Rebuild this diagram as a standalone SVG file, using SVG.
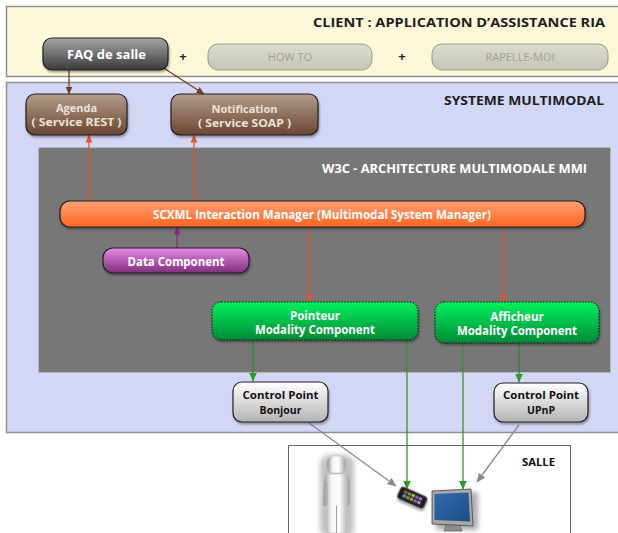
<svg xmlns="http://www.w3.org/2000/svg" width="618" height="533" viewBox="0 0 618 533">
  <defs>
    <linearGradient id="gDark" x1="0" y1="0" x2="0" y2="1">
      <stop offset="0" stop-color="#a6a6a6"/>
      <stop offset="1" stop-color="#3a3a3a"/>
    </linearGradient>
    <linearGradient id="gBeige" x1="0" y1="0" x2="0" y2="1">
      <stop offset="0" stop-color="#dcdccf"/>
      <stop offset="1" stop-color="#c6c6b6"/>
    </linearGradient>
    <linearGradient id="gBrown" x1="0" y1="0" x2="0" y2="1">
      <stop offset="0" stop-color="#b29c8a"/>
      <stop offset="1" stop-color="#6a4630"/>
    </linearGradient>
    <linearGradient id="gOrange" x1="0" y1="0" x2="0" y2="1">
      <stop offset="0" stop-color="#ffa276"/>
      <stop offset="1" stop-color="#ff6420"/>
    </linearGradient>
    <linearGradient id="gPurple" x1="0" y1="0" x2="0" y2="1">
      <stop offset="0" stop-color="#e88ae6"/>
      <stop offset="1" stop-color="#7e2f7c"/>
    </linearGradient>
    <linearGradient id="gGreen" x1="0" y1="0" x2="0" y2="1">
      <stop offset="0" stop-color="#06f25c"/>
      <stop offset="1" stop-color="#008a35"/>
    </linearGradient>
    <linearGradient id="gLight" x1="0" y1="0" x2="0" y2="1">
      <stop offset="0" stop-color="#ffffff"/>
      <stop offset="1" stop-color="#b4b4b4"/>
    </linearGradient>
    <linearGradient id="gBody" x1="0" y1="0" x2="1" y2="0">
      <stop offset="0" stop-color="#8c8c8c"/>
      <stop offset="0.3" stop-color="#f4f4f4"/>
      <stop offset="0.6" stop-color="#ffffff"/>
      <stop offset="1" stop-color="#9c9c9c"/>
    </linearGradient>
    <linearGradient id="gScreen" x1="0" y1="0" x2="1" y2="1">
      <stop offset="0" stop-color="#2f6bb0"/>
      <stop offset="1" stop-color="#1f4c86"/>
    </linearGradient>
    <filter id="shadow" x="-10%" y="-20%" width="120%" height="150%">
      <feDropShadow dx="1" dy="2" stdDeviation="1.2" flood-color="#000" flood-opacity="0.35"/>
    </filter>
    <filter id="soft" x="-30%" y="-30%" width="160%" height="160%">
      <feGaussianBlur stdDeviation="0.5"/>
    </filter>
    <filter id="halo" x="-40%" y="-40%" width="180%" height="180%">
      <feGaussianBlur stdDeviation="2.5"/>
    </filter>
    <marker id="aBrown" viewBox="0 0 8 8" refX="7.5" refY="4" markerWidth="8" markerHeight="8" markerUnits="userSpaceOnUse" orient="auto">
      <path d="M0,0.5 L8,4 L0,7.5 Z" fill="#6e4220"/>
    </marker>
    <marker id="aRed" viewBox="0 0 8 8" refX="7.5" refY="4" markerWidth="8" markerHeight="8" markerUnits="userSpaceOnUse" orient="auto">
      <path d="M0,0.5 L8,4 L0,7.5 Z" fill="#e8522c"/>
    </marker>
    <marker id="aPurple" viewBox="0 0 8 8" refX="7.5" refY="4" markerWidth="8" markerHeight="8" markerUnits="userSpaceOnUse" orient="auto">
      <path d="M0,0.5 L8,4 L0,7.5 Z" fill="#8a2a7e"/>
    </marker>
    <marker id="aGreen" viewBox="0 0 8 8" refX="7.5" refY="4" markerWidth="9" markerHeight="9" markerUnits="userSpaceOnUse" orient="auto">
      <path d="M0,0.5 L8,4 L0,7.5 Z" fill="#2a9a2a"/>
    </marker>
    <marker id="aGray" viewBox="0 0 8 8" refX="7.5" refY="4" markerWidth="9" markerHeight="9" markerUnits="userSpaceOnUse" orient="auto">
      <path d="M0,0.5 L8,4 L0,7.5 Z" fill="#8a8a8a"/>
    </marker>
  </defs>
  <style>
    text { font-family: "Open Sans", "Liberation Sans", sans-serif; font-weight: 700; }
    .title { font-size: 12.5px; fill: #1e1e1e; }
    .w3c { font-size: 12px; fill: #fff; }
    .lbl { font-size: 11.5px; fill: #fff; text-anchor: middle; }
    .dim { font-size: 11px; fill: #a09f95; text-anchor: middle; font-weight: 400; }
    .blk { font-size: 11px; fill: #111; text-anchor: middle; }
    .cp { font-size: 10.5px; fill: #111; text-anchor: middle; }
    .brownlbl { font-size: 11px; fill: #ece2da; text-anchor: middle; }
    .box { stroke: #1e1e1e; stroke-width: 1.2; filter: url(#shadow); }
    .mc { stroke: #111; stroke-width: 1; stroke-dasharray: 1.5 1.5; filter: url(#shadow); }
    .edge { fill: none; stroke-width: 1.3; }
  </style>

  <!-- frames -->
  <g id="client">
    <rect x="6.5" y="6.5" width="620" height="70" fill="#fdf8d9" stroke="#8f8f8f" stroke-width="1.5"/>
    <text class="title" x="313" y="27" textLength="292" lengthAdjust="spacingAndGlyphs">CLIENT : APPLICATION D’ASSISTANCE RIA</text>
  </g>
  <g id="systeme">
    <rect x="6.5" y="82.5" width="620" height="350" fill="#d4d6f6" stroke="#8f8f8f" stroke-width="1.5"/>
    <text class="title" x="444" y="105" textLength="160" lengthAdjust="spacingAndGlyphs">SYSTEME MULTIMODAL</text>
  </g>
  <g id="w3c">
    <rect x="38.5" y="147.5" width="572" height="225" fill="#777777" stroke="#c8c8c8" stroke-width="1" stroke-dasharray="2 2"/>
    <text class="w3c" x="322" y="173" textLength="265" lengthAdjust="spacingAndGlyphs">W3C  - ARCHITECTURE MULTIMODALE MMI</text>
  </g>
  <g id="salle">
    <rect x="288.5" y="445.5" width="282" height="100" fill="#ffffff" stroke="#666" stroke-width="1"/>
    <text class="blk" x="538.5" y="466" textLength="33" lengthAdjust="spacingAndGlyphs">SALLE</text>
  </g>

  <!-- connectors -->
  <g id="connectors">
    <line class="edge" x1="69" y1="70" x2="69" y2="94" stroke="#6e4220" stroke-width="1.5" marker-end="url(#aBrown)"/>
    <line class="edge" x1="162" y1="67" x2="204" y2="94" stroke="#6e4220" stroke-width="1.5" marker-end="url(#aBrown)"/>
    <line class="edge" x1="89" y1="201" x2="89" y2="135" stroke="#e8522c" marker-end="url(#aRed)"/>
    <line class="edge" x1="194" y1="201" x2="194" y2="135" stroke="#e8522c" marker-end="url(#aRed)"/>
    <line class="edge" x1="177" y1="248" x2="177" y2="227" stroke="#8a2a7e" stroke-width="1.6" marker-end="url(#aPurple)"/>
    <line class="edge" x1="309" y1="227" x2="309" y2="302" stroke="#e8522c" marker-end="url(#aRed)"/>
    <line class="edge" x1="503" y1="227" x2="503" y2="302" stroke="#e8522c" marker-end="url(#aRed)"/>
    <line class="edge" x1="253" y1="340" x2="253" y2="381" stroke="#2a8a2a" stroke-width="1.5" marker-end="url(#aGreen)"/>
    <line class="edge" x1="519" y1="343" x2="519" y2="382" stroke="#2a8a2a" stroke-width="1.5" marker-end="url(#aGreen)"/>
    <line class="edge" x1="407" y1="340" x2="407" y2="489" stroke="#2a9a2a" stroke-width="2" marker-end="url(#aGreen)"/>
    <line class="edge" x1="463" y1="343" x2="463" y2="489" stroke="#2a9a2a" stroke-width="2" marker-end="url(#aGreen)"/>
    <line class="edge" x1="309" y1="423" x2="396" y2="486" stroke="#8a8a8a" stroke-width="1.5" marker-end="url(#aGray)"/>
    <line class="edge" x1="519" y1="425" x2="477" y2="482" stroke="#8a8a8a" stroke-width="1.5" marker-end="url(#aGray)"/>
  </g>

  <!-- nodes -->
  <g id="faq">
    <rect class="box" x="43" y="38" width="125" height="32" rx="9" fill="url(#gDark)"/>
    <text class="lbl" x="106.5" y="58.5" style="font-size:13px" textLength="79" lengthAdjust="spacingAndGlyphs">FAQ de salle</text>
  </g>
  <text x="183" y="61" style="font-size:13px;fill:#222;text-anchor:middle">+</text>
  <g id="howto">
    <rect x="208" y="44" width="164" height="26" rx="10" fill="url(#gBeige)" stroke="#9a9a8e" stroke-width="1"/>
    <text class="dim" x="290" y="61">HOW TO</text>
  </g>
  <text x="402" y="61" style="font-size:13px;fill:#222;text-anchor:middle">+</text>
  <g id="rapelle">
    <rect x="432" y="44" width="176" height="26" rx="10" fill="url(#gBeige)" stroke="#9a9a8e" stroke-width="1"/>
    <text class="dim" x="520" y="61">RAPELLE-MOI</text>
  </g>

  <g id="agenda">
    <rect class="box" x="26" y="94" width="101" height="41" rx="9" fill="url(#gBrown)"/>
    <text class="brownlbl" x="76.5" y="112">Agenda</text>
    <text class="brownlbl" x="76.5" y="126" textLength="90" lengthAdjust="spacingAndGlyphs">( Service REST )</text>
  </g>
  <g id="notification">
    <rect class="box" x="171" y="94" width="147" height="41" rx="9" fill="url(#gBrown)"/>
    <text class="brownlbl" x="244.5" y="113">Notification</text>
    <text class="brownlbl" x="244.5" y="127" textLength="93" lengthAdjust="spacingAndGlyphs">( Service SOAP )</text>
  </g>

  <g id="scxml">
    <rect class="box" x="60" y="201" width="525" height="26" rx="10" fill="url(#gOrange)"/>
    <text class="lbl" x="322" y="218.5" textLength="338" lengthAdjust="spacingAndGlyphs">SCXML Interaction Manager (Multimodal System Manager)</text>
  </g>
  <g id="data">
    <rect class="box" x="103" y="248" width="146" height="25" rx="10" fill="url(#gPurple)"/>
    <text class="lbl" x="176" y="266" textLength="97" lengthAdjust="spacingAndGlyphs">Data Component</text>
  </g>

  <g id="pointeur">
    <rect class="mc" x="212" y="302" width="206" height="38" rx="9" fill="url(#gGreen)"/>
    <text class="lbl" x="315" y="320">Pointeur</text>
    <text class="lbl" x="315" y="333.5" textLength="120" lengthAdjust="spacingAndGlyphs">Modality Component</text>
  </g>
  <g id="afficheur">
    <rect class="mc" x="435" y="302" width="164" height="41" rx="9" fill="url(#gGreen)"/>
    <text class="lbl" x="517" y="321">Afficheur</text>
    <text class="lbl" x="517" y="335" textLength="120" lengthAdjust="spacingAndGlyphs">Modality Component</text>
  </g>

  <g id="cp-bonjour">
    <rect class="box" x="233" y="382" width="95" height="40" rx="9" fill="url(#gLight)"/>
    <text class="cp" x="280.5" y="399" textLength="76" lengthAdjust="spacingAndGlyphs">Control Point</text>
    <text class="cp" x="280.5" y="414">Bonjour</text>
  </g>
  <g id="cp-upnp">
    <rect class="box" x="494" y="383" width="94" height="39" rx="9" fill="url(#gLight)"/>
    <text class="cp" x="541" y="399" textLength="76" lengthAdjust="spacingAndGlyphs">Control Point</text>
    <text class="cp" x="541" y="414">UPnP</text>
  </g>

  <!-- room contents -->
  <g id="personne">
    <g filter="url(#halo)" opacity="0.45">
      <rect x="320" y="455" width="34" height="82" rx="9" fill="#777"/>
    </g>
    <g filter="url(#soft)">
      <rect x="327" y="456" width="19" height="17" rx="6" fill="url(#gBody)" stroke="#bdbdbd" stroke-width="0.6"/>
      <path d="M324,480 Q324,474 330,474 L343,474 Q350,474 350,481 L350,505 L346,508 L346,533 L327,533 L327,508 L323,505 Z" fill="url(#gBody)" stroke="#bdbdbd" stroke-width="0.6"/>
      <path d="M327,482 L327,505" stroke="#a0a0a0" stroke-width="0.8"/>
      <line x1="336.5" y1="506" x2="336.5" y2="533" stroke="#a0a0a0" stroke-width="1"/>
    </g>
  </g>
  <g id="telephone" transform="rotate(24 412 497)">
    <rect x="398" y="491" width="29" height="13" rx="3" fill="#1c1c1c" stroke="#777" stroke-width="0.8" filter="url(#shadow)"/>
    <rect x="402" y="493" width="21" height="9" fill="#333"/>
    <rect x="403" y="494" width="3" height="2.5" fill="#e04040"/>
    <rect x="407" y="494" width="3" height="2.5" fill="#40c040"/>
    <rect x="411" y="494" width="3" height="2.5" fill="#f0b020"/>
    <rect x="415" y="494" width="3" height="2.5" fill="#4080e0"/>
    <rect x="419" y="494" width="3" height="2.5" fill="#d060d0"/>
    <rect x="403" y="498" width="3" height="2.5" fill="#30b0e0"/>
    <rect x="407" y="498" width="3" height="2.5" fill="#e08030"/>
    <rect x="411" y="498" width="3" height="2.5" fill="#60d060"/>
    <rect x="415" y="498" width="3" height="2.5" fill="#f04080"/>
    <rect x="419" y="498" width="3" height="2.5" fill="#a0a0f0"/>
  </g>
  <g id="ecran">
    <rect x="436" y="492" width="42" height="38" fill="#777" filter="url(#halo)" opacity="0.6"/>
    <path d="M432,491 L471,489 L473,526 L432,524 Z" fill="#a8a8a8" stroke="#444" stroke-width="0.8"/>
    <path d="M434.5,494 L468.5,492.5 L470,521.5 L434.5,520 Z" fill="url(#gScreen)"/>
    <path d="M446,525 L460,525.5 L462,531 L444,531 Z" fill="#8c8c8c" stroke="#555" stroke-width="0.6"/>
  </g>
</svg>
